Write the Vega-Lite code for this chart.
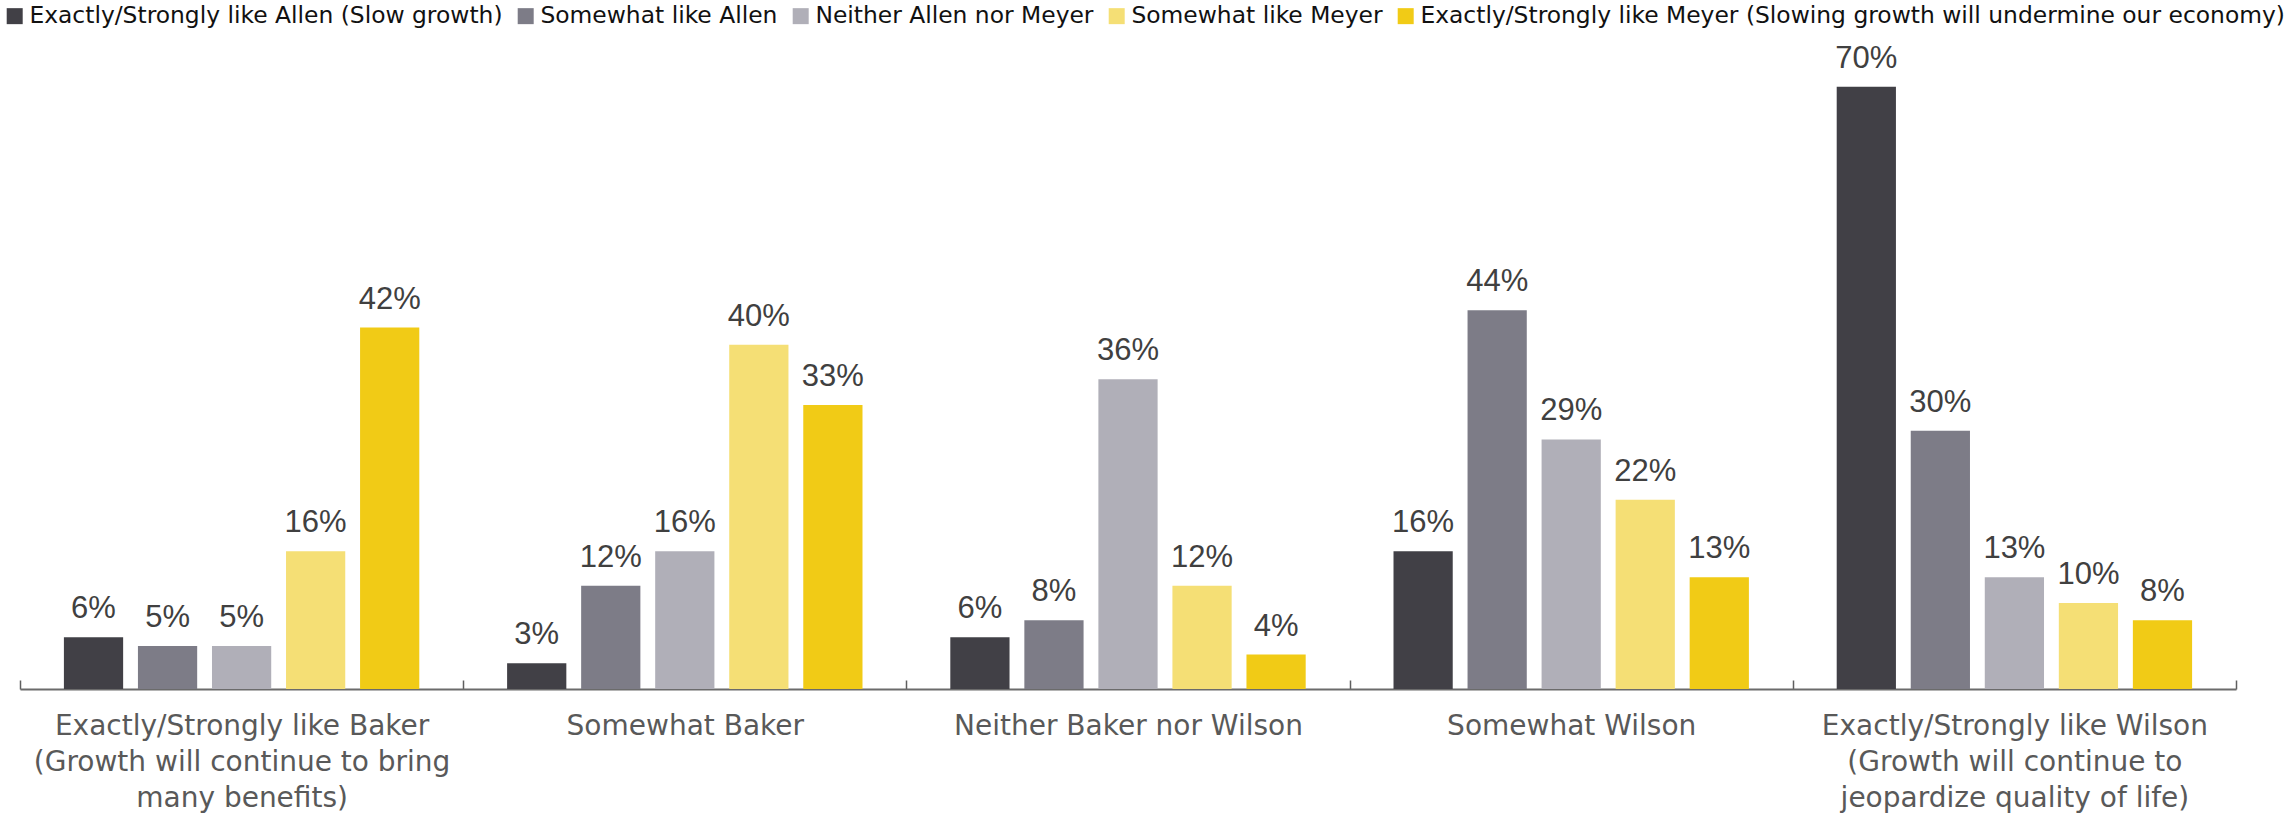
{
  "$schema": "https://vega.github.io/schema/vega-lite/v6.json",
  "width": 2216,
  "height": 654,
  "autosize": {"type": "none"},
  "padding": {"left": 20, "top": 35, "right": 59, "bottom": 130},
  "background": "white",
  "config": {"view": {"stroke": null}, "font": "Liberation Sans"},
  "data": {
    "values": [
      {"group": "Exactly/Strongly like Baker (Growth will continue to bring many benefits)", "series": "Exactly/Strongly like Allen (Slow growth)", "value": 0.06},
      {"group": "Exactly/Strongly like Baker (Growth will continue to bring many benefits)", "series": "Somewhat like Allen", "value": 0.05},
      {"group": "Exactly/Strongly like Baker (Growth will continue to bring many benefits)", "series": "Neither Allen nor Meyer", "value": 0.05},
      {"group": "Exactly/Strongly like Baker (Growth will continue to bring many benefits)", "series": "Somewhat like Meyer", "value": 0.16},
      {"group": "Exactly/Strongly like Baker (Growth will continue to bring many benefits)", "series": "Exactly/Strongly like Meyer (Slowing growth will undermine our economy)", "value": 0.42},
      {"group": "Somewhat Baker", "series": "Exactly/Strongly like Allen (Slow growth)", "value": 0.03},
      {"group": "Somewhat Baker", "series": "Somewhat like Allen", "value": 0.12},
      {"group": "Somewhat Baker", "series": "Neither Allen nor Meyer", "value": 0.16},
      {"group": "Somewhat Baker", "series": "Somewhat like Meyer", "value": 0.40},
      {"group": "Somewhat Baker", "series": "Exactly/Strongly like Meyer (Slowing growth will undermine our economy)", "value": 0.33},
      {"group": "Neither Baker nor Wilson", "series": "Exactly/Strongly like Allen (Slow growth)", "value": 0.06},
      {"group": "Neither Baker nor Wilson", "series": "Somewhat like Allen", "value": 0.08},
      {"group": "Neither Baker nor Wilson", "series": "Neither Allen nor Meyer", "value": 0.36},
      {"group": "Neither Baker nor Wilson", "series": "Somewhat like Meyer", "value": 0.12},
      {"group": "Neither Baker nor Wilson", "series": "Exactly/Strongly like Meyer (Slowing growth will undermine our economy)", "value": 0.04},
      {"group": "Somewhat Wilson", "series": "Exactly/Strongly like Allen (Slow growth)", "value": 0.16},
      {"group": "Somewhat Wilson", "series": "Somewhat like Allen", "value": 0.44},
      {"group": "Somewhat Wilson", "series": "Neither Allen nor Meyer", "value": 0.29},
      {"group": "Somewhat Wilson", "series": "Somewhat like Meyer", "value": 0.22},
      {"group": "Somewhat Wilson", "series": "Exactly/Strongly like Meyer (Slowing growth will undermine our economy)", "value": 0.13},
      {"group": "Exactly/Strongly like Wilson (Growth will continue to jeopardize quality of life)", "series": "Exactly/Strongly like Allen (Slow growth)", "value": 0.70},
      {"group": "Exactly/Strongly like Wilson (Growth will continue to jeopardize quality of life)", "series": "Somewhat like Allen", "value": 0.30},
      {"group": "Exactly/Strongly like Wilson (Growth will continue to jeopardize quality of life)", "series": "Neither Allen nor Meyer", "value": 0.13},
      {"group": "Exactly/Strongly like Wilson (Growth will continue to jeopardize quality of life)", "series": "Somewhat like Meyer", "value": 0.10},
      {"group": "Exactly/Strongly like Wilson (Growth will continue to jeopardize quality of life)", "series": "Exactly/Strongly like Meyer (Slowing growth will undermine our economy)", "value": 0.08}
    ]
  },
  "encoding": {
    "x": {
      "field": "group",
      "type": "nominal",
      "sort": null,
      "scale": {"paddingInner": 0, "paddingOuter": 0},
      "axis": {
        "title": null,
        "labelAngle": 0,
        "labelFont": "DejaVu Sans",
        "labelFontSize": 28,
        "labelColor": "#595959",
        "labelLineHeight": 36,
        "labelBaseline": "alphabetic",
        "labelPadding": 54,
        "labelLimit": 0,
        "tickBand": "extent",
        "tickSize": -9,
        "tickColor": "#5f5f5f",
        "tickWidth": 1.5,
        "domainColor": "#6b6b6b",
        "domainWidth": 2,
        "labelExpr": "datum.value === 'Exactly/Strongly like Baker (Growth will continue to bring many benefits)' ? ['Exactly/Strongly like Baker', '(Growth will continue to bring', 'many benefits)'] : datum.value === 'Exactly/Strongly like Wilson (Growth will continue to jeopardize quality of life)' ? ['Exactly/Strongly like Wilson', '(Growth will continue to', 'jeopardize quality of life)'] : datum.value"
      }
    },
    "xOffset": {
      "field": "series",
      "type": "nominal",
      "sort": null,
      "scale": {"paddingInner": 0.2, "paddingOuter": 0.593}
    },
    "y": {
      "field": "value",
      "type": "quantitative",
      "scale": {"domain": [0, 0.76], "nice": false},
      "axis": null
    }
  },
  "layer": [
    {
      "mark": {"type": "bar"},
      "encoding": {
        "color": {
          "field": "series",
          "type": "nominal",
          "sort": null,
          "scale": {
            "domain": [
              "Exactly/Strongly like Allen (Slow growth)",
              "Somewhat like Allen",
              "Neither Allen nor Meyer",
              "Somewhat like Meyer",
              "Exactly/Strongly like Meyer (Slowing growth will undermine our economy)"
            ],
            "range": ["#414046", "#7d7c87", "#b0afb8", "#f5df75", "#f1cb16"]
          },
          "legend": {
            "title": null,
            "orient": "none",
            "legendX": -17,
            "legendY": -31,
            "direction": "horizontal",
            "columns": 5,
            "columnPadding": 11,
            "symbolType": "square",
            "symbolSize": 256,
            "symbolStrokeWidth": 0,
            "labelFont": "DejaVu Sans",
            "labelFontSize": 23.4,
            "labelColor": "#111111",
            "labelOffset": 3,
            "labelLimit": 0
          }
        }
      }
    },
    {
      "mark": {"type": "text", "baseline": "alphabetic", "dy": -19, "fontSize": 31, "color": "#404040"},
      "encoding": {
        "text": {"field": "value", "type": "quantitative", "format": ".0%"},
        "detail": {"field": "series"}
      }
    }
  ]
}
